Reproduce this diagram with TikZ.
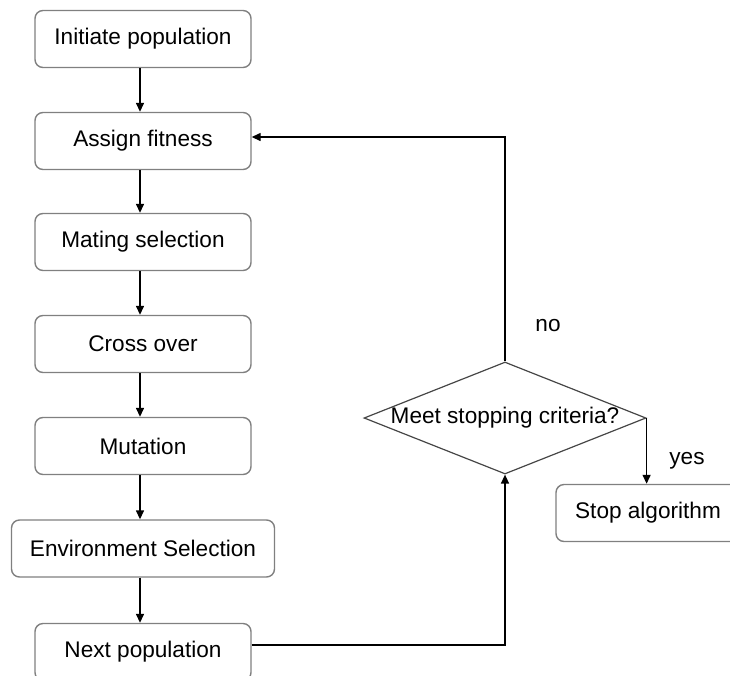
\documentclass[tikz,border=0pt]{standalone}
\usepackage{fontspec}
\setmainfont{Liberation Sans}
\usetikzlibrary{arrows.meta,shapes.geometric}
\definecolor{boxgray}{RGB}{128,128,128}
\definecolor{diagray}{RGB}{70,70,70}
\begin{document}
\begin{tikzpicture}[x=1pt,y=-1pt,
  txt/.style={font=\fontsize{22.6}{27}\selectfont, text=black},
  stepbox/.style={txt, draw=boxgray, line width=1.4pt, rounded corners=8pt,
    minimum width=216pt, minimum height=57pt, inner sep=0pt, fill=white},
  flow/.style={draw=black, line width=1.4pt, -{Triangle[length=9pt,width=8pt]}}]
\useasboundingbox (0,0) rectangle (730,675);
\begin{scope}
\clip (0,0) rectangle (730,675);

% main sequence of steps
\node[stepbox] (init)   at (143,39)  {Initiate population};
\node[stepbox] (assign) at (143,141) {Assign fitness};
\node[stepbox] (mating) at (143,242) {Mating selection};
\node[stepbox] (cross)  at (143,344) {Cross over};
\node[stepbox] (mut)    at (143,446) {Mutation};
\node[stepbox, minimum width=263pt] (env) at (143,548.5) {Environment Selection};
\node[stepbox] (next)   at (143,652) {Next population};

% decision and exit
\node[shape=diamond, draw=diagray, line width=1.2pt, minimum width=282pt,
      minimum height=112pt, inner sep=0pt] (check) at (505,418) {};
\node[txt] (checktext) at (check.center) {Meet stopping criteria?};
\node[stepbox, minimum width=200pt] (stop) at (656,513) {Stop algorithm\kern16pt\relax};

% connectors
\draw[flow] ([xshift=-3pt]init.south)   -- ([xshift=-3pt]assign.north);
\draw[flow] ([xshift=-3pt]assign.south) -- ([xshift=-3pt]mating.north);
\draw[flow] ([xshift=-3pt]mating.south) -- ([xshift=-3pt]cross.north);
\draw[flow] ([xshift=-3pt]cross.south)  -- ([xshift=-3pt]mut.north);
\draw[flow] ([xshift=-3pt]mut.south)    -- ([xshift=-3pt]env.north);
\draw[flow] ([xshift=-3pt]env.south)    -- ([xshift=-3pt]next.north);
\draw[flow] ([yshift=7pt]next.east) -| (check.south);
\draw[flow] (check.north) |- ([yshift=4pt]assign.east);
\draw[flow] (check.east) -- (check.east |- stop.north);

% branch labels
\node[txt] (nolbl)  at (548,326) {no};
\node[txt] (yeslbl) at (687,461) {yes};
\end{scope}
\end{tikzpicture}
\end{document}
